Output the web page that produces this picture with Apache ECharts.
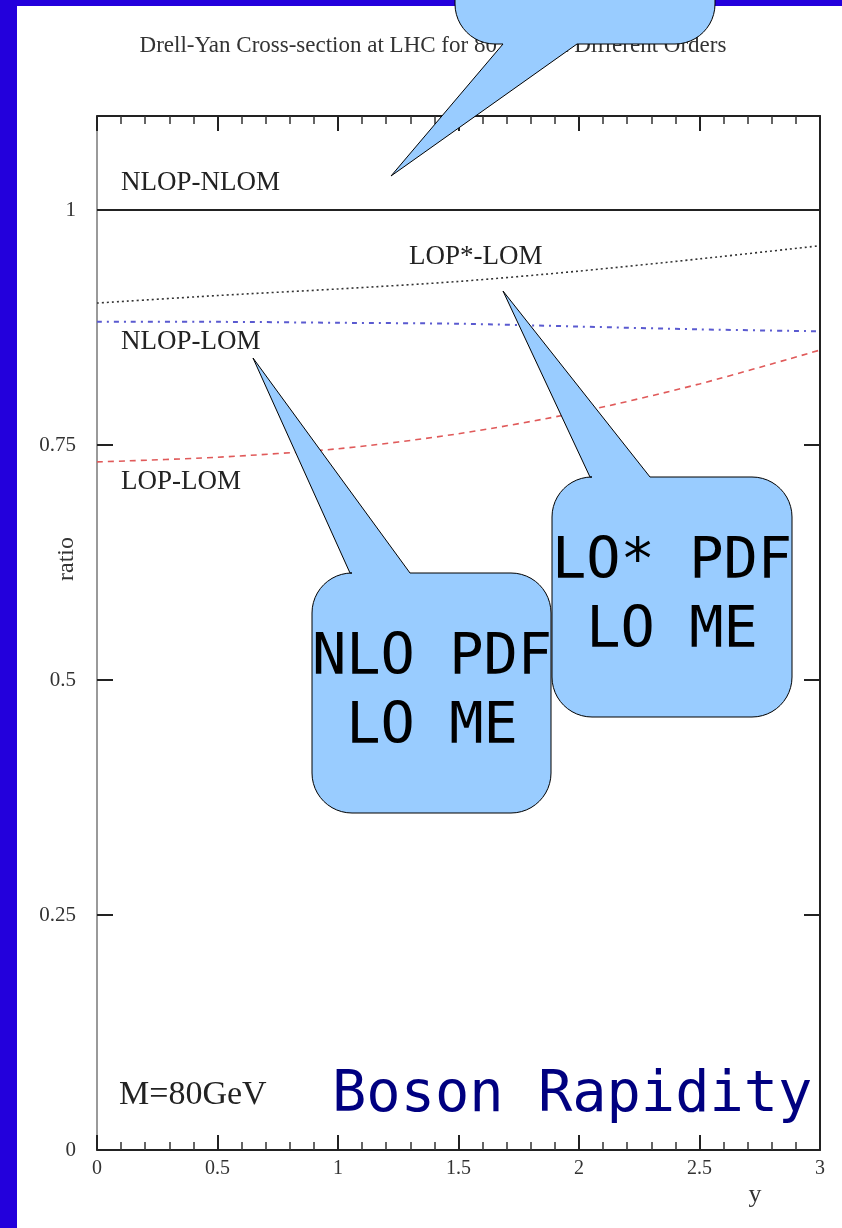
<!DOCTYPE html>
<html>
<head>
<meta charset="utf-8">
<script src="https://cdn.jsdelivr.net/npm/echarts@6/dist/echarts.min.js"></script>
<style>
  html, body { margin: 0; padding: 0; background: #ffffff; }
  #chart { width: 842px; height: 1228px; }
</style>
</head>
<body>
<div id="chart"></div>
<script>
// Boson rapidity y and ratio of cross-sections for each PDF/ME order combination
const rapidity   = [0, 0.5, 1, 1.5, 2, 2.5, 3];
const nlopNlom   = [1, 1, 1, 1, 1, 1, 1];
const lopStarLom = [0.901, 0.909, 0.916, 0.924, 0.935, 0.948, 0.962];
const nlopLom    = [0.881, 0.881, 0.880, 0.879, 0.876, 0.873, 0.871];
const lopLom     = [0.732, 0.737, 0.746, 0.762, 0.785, 0.815, 0.851];
const yTicks     = [0, 0.25, 0.5, 0.75, 1];

const pairs = ys => rapidity.map((x, i) => [x, ys[i]]);

const serif = '"Liberation Serif", "DejaVu Serif", serif';
const mono  = '"DejaVu Sans Mono", monospace';

// Quarter-circle corner sampled as points, from angle a0 to a0 + 90deg
function corner(cx, cy, r, a0) {
  const pts = [];
  for (let i = 0; i <= 12; i++) {
    const a = (a0 + i * 90 / 12) * Math.PI / 180;
    pts.push([cx + r * Math.cos(a), cy + r * Math.sin(a)]);
  }
  return pts;
}

// Rounded speech bubble outline; tail sits on the top or bottom edge of the box
function bubble(x, y, w, h, r, b1, b2, tip, edge) {
  let pts = [];
  pts = pts.concat(corner(x + r, y + r, r, 180));              // top-left
  if (edge === 'top') pts.push([b1, y], tip, [b2, y]);
  pts = pts.concat(corner(x + w - r, y + r, r, 270));          // top-right
  pts = pts.concat(corner(x + w - r, y + h - r, r, 0));        // bottom-right
  if (edge === 'bottom') pts.push([b2, y + h], tip, [b1, y + h]);
  pts = pts.concat(corner(x + r, y + h - r, r, 90));           // bottom-left
  return pts;
}

const bubbleStyle = { fill: '#99ccff', stroke: '#000000', lineWidth: 1 };
const plotText = (text, x, y, size) => ({
  type: 'text', x, y, z: 50,
  style: { text, font: `${size}px ${serif}`, fill: '#222', verticalAlign: 'middle', align: 'left' }
});
const monoText = (text, x, y) => ({
  type: 'text', x, y, z: 320,
  style: { text, font: `57px ${mono}`, fill: '#000', align: 'center', verticalAlign: 'middle' }
});

const chart = echarts.init(document.getElementById('chart'), null, { renderer: 'canvas' });

const frameX = {
  type: 'value', min: 0, max: 3, interval: 0.5,
  axisLine: { show: true, onZero: false, lineStyle: { color: '#222', width: 2 } },
  axisTick: { show: true, inside: true, length: 15, lineStyle: { color: '#222', width: 2 } },
  minorTick: { show: true, splitNumber: 5, length: 8, lineStyle: { color: '#333', width: 1.5 } },
  splitLine: { show: false }
};
const frameY = {
  type: 'value', min: 0, max: 1.1,
  axisLine: { show: true, onZero: false, lineStyle: { color: '#222', width: 2 } },
  axisTick: { show: true, inside: true, length: 16, customValues: yTicks, lineStyle: { color: '#222', width: 2 } },
  splitLine: { show: false }
};

chart.setOption({
  animation: false,
  backgroundColor: '#ffffff',
  grid: { left: 97, top: 116, width: 723, height: 1034, containLabel: false },
  xAxis: [
    Object.assign({}, frameX, {
      position: 'bottom',
      axisLabel: { show: true, margin: 9, fontFamily: serif, fontSize: 20, color: '#333',
                   formatter: v => String(v) }
    }),
    Object.assign({}, frameX, { position: 'top', axisLabel: { show: false } })
  ],
  yAxis: [
    Object.assign({}, frameY, {
      position: 'left',
      axisLine: { show: true, onZero: false, lineStyle: { color: '#9a9a9a', width: 2 } },
      axisLabel: { show: true, margin: 21, customValues: yTicks, fontFamily: serif, fontSize: 21, color: '#333',
                   formatter: v => String(v) }
    }),
    Object.assign({}, frameY, { position: 'right', axisLabel: { show: false } })
  ],
  series: [
    { name: 'NLOP-NLOM', type: 'line', data: pairs(nlopNlom), symbol: 'none',
      lineStyle: { color: '#222', width: 2, type: 'solid' } },
    { name: 'LOP*-LOM', type: 'line', data: pairs(lopStarLom), symbol: 'none', smooth: 0.3,
      lineStyle: { color: '#333', width: 1.6, type: [2, 3] } },
    { name: 'NLOP-LOM', type: 'line', data: pairs(nlopLom), symbol: 'none', smooth: 0.3,
      lineStyle: { color: '#5a5ad0', width: 2, type: [5, 5, 2, 5] } },
    { name: 'LOP-LOM', type: 'line', data: pairs(lopLom), symbol: 'none', smooth: 0.3,
      lineStyle: { color: '#e05a5a', width: 1.6, type: [6, 5] } }
  ],
  graphic: [
    // page border
    { type: 'rect', z: 200, shape: { x: 0, y: 0, width: 17, height: 1228 }, style: { fill: '#2300dc' } },
    { type: 'rect', z: 200, shape: { x: 0, y: 0, width: 842, height: 6 }, style: { fill: '#2300dc' } },

    // figure title and axis titles
    { type: 'text', x: 433, y: 46, z: 50,
      style: { text: 'Drell-Yan Cross-section at LHC for 80 GeV at Different Orders',
               font: `23px ${serif}`, fill: '#333', align: 'center', verticalAlign: 'middle' } },
    { type: 'text', x: 67, y: 559, rotation: Math.PI / 2, z: 50,
      style: { text: 'ratio', font: `24px ${serif}`, fill: '#333', align: 'center', verticalAlign: 'middle' } },
    { type: 'text', x: 755, y: 1195, z: 50,
      style: { text: 'y', font: `26px ${serif}`, fill: '#333', align: 'center', verticalAlign: 'middle' } },

    // curve labels
    plotText('NLOP-NLOM', 121, 183, 27),
    plotText('LOP*-LOM', 409, 257, 27),
    plotText('NLOP-LOM', 121, 342, 27),
    plotText('LOP-LOM', 121, 482, 27),
    plotText('M=80GeV', 119, 1095, 34),

    // speech bubbles, drawn above the page border
    { type: 'polygon', z: 300, shape: { points: bubble(455, -200, 260, 244, 40, 503, 577, [391, 176], 'bottom') }, style: bubbleStyle },
    { type: 'polygon', z: 300, shape: { points: bubble(312, 573, 239, 240, 40, 350, 410, [253, 358], 'top') }, style: bubbleStyle },
    { type: 'polygon', z: 310, shape: { points: bubble(552, 477, 240, 240, 40, 590, 650, [503, 291], 'top') }, style: bubbleStyle },
    monoText('NLO PDF', 432, 659),
    monoText('LO ME', 432, 728),
    monoText('LO* PDF', 672, 563),
    monoText('LO ME', 672, 632),
    { type: 'text', x: 332, y: 1096, z: 320,
      style: { text: 'Boson Rapidity', font: `57px ${mono}`, fill: '#000080', align: 'left', verticalAlign: 'middle' } }
  ]
});
</script>
</body>
</html>
